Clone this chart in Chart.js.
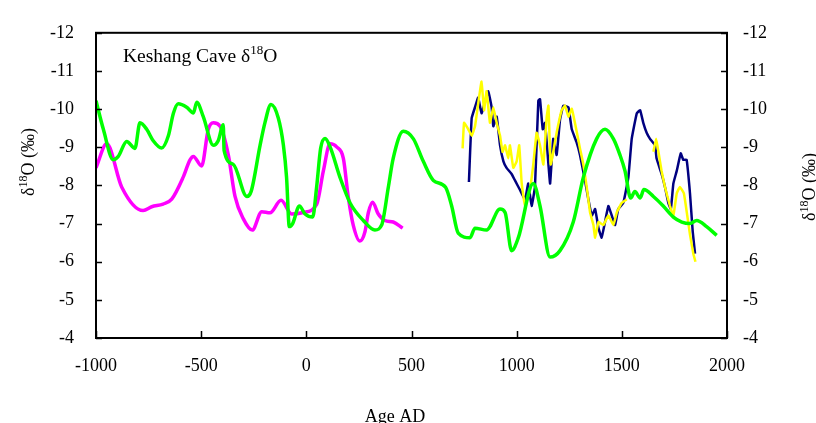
<!DOCTYPE html>
<html>
<head>
<meta charset="utf-8">
<script src="https://cdn.jsdelivr.net/npm/chart.js@4/dist/chart.umd.min.js"></script>
<style>
  html, body { margin: 0; padding: 0; background: #fff; }
  #wrap { width: 816px; height: 423px; position: relative; }
</style>
</head>
<body>
<div id="wrap"><canvas id="chart" width="816" height="423"></canvas></div>
<script>
// ── Data ───────────────────────────────────────────────────────────────────
const pinkAge = [-1000, -949, -878, -776, -735, -681, -640, -586, -553, -537, -498, -466, -442, -410, -371, -339, -300, -257, -212, -173, -120, -70, -14, 49, 81, 113, 144, 176, 199, 223, 255, 279, 295, 315, 342, 374, 413, 458];
const pinkD18O = [-8.46, -9.09, -7.96, -7.34, -7.44, -7.51, -7.64, -8.21, -8.67, -8.76, -8.51, -9.47, -9.64, -9.55, -8.8, -7.71, -7.13, -6.83, -7.31, -7.28, -7.61, -7.25, -7.29, -7.5, -8.38, -9.09, -9.01, -8.71, -7.71, -6.96, -6.54, -6.79, -7.29, -7.56, -7.25, -7.08, -7.04, -6.88];

const greenAge = [-1000, -965, -918, -894, -854, -815, -791, -759, -728, -688, -656, -632, -609, -569, -537, -521, -490, -442, -419, -395, -391, -347, -283, -262, -220, -197, -168, -133, -109, -94, -81, -65, -33, -6, 30, 49, 68, 89, 113, 160, 208, 271, 326, 358, 390, 413, 461, 509, 556, 604, 662, 691, 722, 778, 802, 857, 921, 945, 976, 1008, 1079, 1111, 1159, 1206, 1269, 1317, 1380, 1420, 1460, 1491, 1515, 1542, 1562, 1587, 1605, 1650, 1697, 1745, 1785, 1824, 1856, 1903, 1951];
const greenD18O = [-10.22, -9.47, -8.67, -8.76, -9.15, -8.97, -9.64, -9.47, -9.17, -8.98, -9.3, -9.89, -10.14, -10.05, -9.9, -10.18, -9.8, -9.05, -9.17, -9.59, -8.92, -8.55, -7.71, -7.85, -9.05, -9.64, -10.12, -9.76, -9.05, -8.21, -6.92, -7.0, -7.46, -7.25, -7.17, -7.96, -8.97, -9.23, -9.01, -8.21, -7.54, -7.08, -6.83, -6.96, -7.96, -8.71, -9.42, -9.22, -8.63, -8.13, -7.95, -7.46, -6.75, -6.63, -6.88, -6.83, -7.38, -7.29, -6.29, -6.63, -8.05, -7.46, -6.12, -6.29, -7.04, -8.21, -9.22, -9.47, -9.22, -8.8, -8.38, -7.67, -7.84, -7.67, -7.89, -7.71, -7.46, -7.17, -7.04, -7.0, -7.08, -6.92, -6.69];

const navyAge = [773, 786, 802, 817, 833, 849, 865, 881, 889, 905, 921, 937, 952, 976, 992, 1016, 1040, 1055, 1071, 1087, 1103, 1111, 1124, 1135, 1151, 1159, 1174, 1190, 1206, 1222, 1246, 1262, 1285, 1301, 1325, 1341, 1357, 1373, 1389, 1404, 1420, 1436, 1452, 1468, 1483, 1507, 1531, 1547, 1571, 1587, 1602, 1618, 1634, 1658, 1665, 1689, 1705, 1721, 1733, 1745, 1761, 1780, 1792, 1808, 1824, 1837, 1848];
const navyD18O = [-8.09, -9.76, -10.05, -10.3, -9.89, -10.18, -10.47, -10.05, -9.55, -9.8, -9.05, -8.63, -8.46, -8.3, -8.13, -7.88, -7.63, -8.05, -7.46, -7.96, -10.22, -10.26, -9.47, -9.64, -8.55, -8.05, -9.22, -8.8, -9.72, -10.09, -10.05, -9.47, -9.13, -8.8, -8.13, -7.63, -7.21, -7.38, -6.88, -6.63, -7.04, -7.46, -7.21, -6.96, -7.38, -7.54, -8.21, -9.22, -9.89, -9.97, -9.64, -9.38, -9.22, -9.05, -8.71, -8.3, -7.96, -7.54, -7.38, -8.05, -8.38, -8.84, -8.67, -8.67, -7.79, -6.79, -6.21];

// yellow record has a gap between ~1530 and ~1650 (null)
const yellowAge = [743, 750, 770, 786, 802, 817, 833, 845, 857, 873, 889, 905, 921, 933, 945, 960, 968, 984, 1000, 1012, 1024, 1040, 1063, 1079, 1095, 1111, 1127, 1143, 1151, 1162, 1190, 1214, 1230, 1246, 1262, 1277, 1301, 1317, 1333, 1349, 1365, 1373, 1389, 1412, 1436, 1460, 1476, 1499, 1523, 1590, 1650, 1663, 1674, 1689, 1705, 1729, 1745, 1761, 1776, 1795, 1811, 1824, 1840, 1850];
const yellowD18O = [-8.97, -9.64, -9.47, -9.3, -9.55, -10.14, -10.72, -9.97, -10.47, -9.64, -10.05, -9.64, -9.3, -8.88, -9.05, -8.71, -9.05, -8.46, -8.63, -9.05, -8.05, -7.46, -7.88, -8.55, -9.38, -9.05, -8.55, -9.8, -10.09, -8.55, -9.38, -9.97, -10.09, -9.8, -10.01, -9.64, -8.97, -8.55, -7.96, -7.29, -6.96, -6.63, -7.04, -6.96, -7.21, -6.96, -7.29, -7.54, -7.63, null, -8.88, -9.22, -8.88, -8.38, -7.96, -7.46, -7.21, -7.79, -7.96, -7.79, -7.21, -6.71, -6.21, -6.0];

const ageTicks = [-1000, -500, 0, 500, 1000, 1500, 2000];
const d18OTicks = [-12, -11, -10, -9, -8, -7, -6, -5, -4];

const SERIF = "'Liberation Serif', 'Times New Roman', serif";

const toPoints = (xs, ys) => xs.map((x, i) => ({ x: x, y: ys[i] }));

// ── Frame, inward ticks and text (plain canvas on top of Chart.js) ─────────
const framePlugin = {
    id: 'frame',
    afterDraw(chart) {
        const ctx = chart.ctx;
        const a = chart.chartArea;
        const sx = chart.scales.x, sy = chart.scales.y;
        ctx.save();
        ctx.strokeStyle = '#000';
        ctx.lineWidth = 2;
        ctx.strokeRect(a.left, a.top, a.right - a.left, a.bottom - a.top);
        ctx.lineWidth = 1.5;
        ctx.beginPath();
        d18OTicks.forEach(v => {
            const y = Math.round(sy.getPixelForValue(v)) + 0.5;
            ctx.moveTo(a.left, y); ctx.lineTo(a.left + 6, y);
            ctx.moveTo(a.right, y); ctx.lineTo(a.right - 6, y);
        });
        ageTicks.forEach(v => {
            const x = Math.round(sx.getPixelForValue(v)) + 0.5;
            ctx.moveTo(x, a.bottom); ctx.lineTo(x, a.bottom - 7);
        });
        ctx.stroke();

        ctx.fillStyle = '#000';
        // label inside the plot
        drawDelta(ctx, 123, 62, 'Keshang Cave δ', 'O', 19.5, 13, 8);
        // x title
        ctx.font = `18px ${SERIF}`;
        ctx.textAlign = 'center';
        ctx.textBaseline = 'alphabetic';
        ctx.fillText('Age AD', 395, 422);
        // y titles, rotated
        drawRotatedTitle(ctx, 33.5, 162);
        drawRotatedTitle(ctx, 815, 187);
        ctx.restore();
    }
};

function drawDelta(ctx, x, y, pre, post, size, supSize, rise) {
    ctx.textAlign = 'left';
    ctx.textBaseline = 'alphabetic';
    ctx.font = `${size}px ${SERIF}`;
    ctx.fillText(pre, x, y);
    x += ctx.measureText(pre).width;
    ctx.font = `${supSize}px ${SERIF}`;
    ctx.fillText('18', x, y - rise);
    x += ctx.measureText('18').width;
    ctx.font = `${size}px ${SERIF}`;
    ctx.fillText(post, x, y);
}

function drawRotatedTitle(ctx, baseX, centerY) {
    ctx.save();
    ctx.font = `18px ${SERIF}`;
    const w1 = ctx.measureText('δ').width;
    const w3 = ctx.measureText('O (‰)').width;
    ctx.font = `12px ${SERIF}`;
    const w2 = ctx.measureText('18').width;
    const total = w1 + w2 + w3;
    ctx.translate(baseX, centerY);
    ctx.rotate(-Math.PI / 2);
    drawDelta(ctx, -total / 2, 0, 'δ', 'O (‰)', 18, 12, 7);
    ctx.restore();
}

// ── Chart ──────────────────────────────────────────────────────────────────
const tickFont = { family: SERIF, size: 18 };

new Chart(document.getElementById('chart').getContext('2d'), {
    type: 'line',
    data: {
        datasets: [
            {
                label: 'green',
                data: toPoints(greenAge, greenD18O),
                borderColor: '#00ff00',
                borderWidth: 3.5,
                pointRadius: 0,
                cubicInterpolationMode: 'monotone',
                fill: false
            },
            {
                label: 'yellow',
                data: toPoints(yellowAge, yellowD18O),
                borderColor: '#ffff00',
                borderWidth: 2.5,
                pointRadius: 0,
                tension: 0.1,
                spanGaps: false,
                fill: false
            },
            {
                label: 'navy',
                data: toPoints(navyAge, navyD18O),
                borderColor: '#000080',
                borderWidth: 2.5,
                pointRadius: 0,
                tension: 0.1,
                fill: false
            },
            {
                label: 'magenta',
                data: toPoints(pinkAge, pinkD18O),
                borderColor: '#ff00ff',
                borderWidth: 3.5,
                pointRadius: 0,
                cubicInterpolationMode: 'monotone',
                fill: false
            }
        ]
    },
    options: {
        responsive: false,
        animation: false,
        events: [],
        layout: { padding: { top: 19, left: 0, right: 0, bottom: 0 } },
        plugins: { legend: { display: false }, tooltip: { enabled: false } },
        scales: {
            x: {
                type: 'linear',
                min: -1000, max: 2000,
                grid: { display: false, drawTicks: false },
                border: { display: false },
                ticks: { stepSize: 500, font: tickFont, color: '#000', padding: 17, maxRotation: 0, callback: v => String(v) },
                afterFit: s => { s.height = 85; }
            },
            y: {
                position: 'left',
                reverse: true,
                min: -12, max: -4,
                grid: { display: false, drawTicks: false },
                border: { display: false },
                ticks: { stepSize: 1, font: tickFont, color: '#000', padding: 22, callback: v => String(v) },
                afterFit: s => { s.width = 96; }
            },
            y2: {
                position: 'right',
                reverse: true,
                min: -12, max: -4,
                grid: { display: false, drawTicks: false },
                border: { display: false },
                ticks: { stepSize: 1, font: tickFont, color: '#000', padding: 16, callback: v => String(v) },
                afterFit: s => { s.width = 89; }
            }
        }
    },
    plugins: [framePlugin]
});
</script>
</body>
</html>
